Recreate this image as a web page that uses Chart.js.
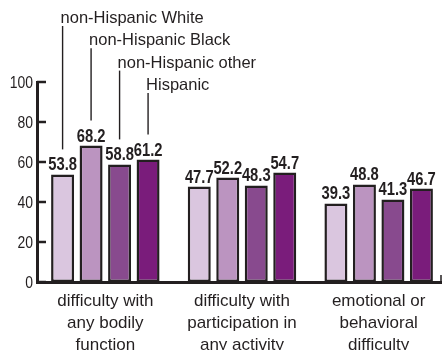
<!DOCTYPE html>
<html>
<head>
<meta charset="utf-8">
<script src="https://cdn.jsdelivr.net/npm/chart.js@4.4.1/dist/chart.umd.min.js"></script>
<style>
  html, body { margin: 0; padding: 0; background: #ffffff; overflow: hidden; }
  #wrap { width: 447px; height: 350px; }
</style>
</head>
<body>
<div id="wrap"><canvas id="chart" width="447" height="350"></canvas></div>
<script>
// Categories (multi-line axis labels)
const categories = [
  ['difficulty with', 'any bodily', 'function'],
  ['difficulty with', 'participation in', 'any activity'],
  ['emotional or', 'behavioral', 'difficulty']
];

// Series names and percentages per category
const seriesNames = ['non-Hispanic White', 'non-Hispanic Black', 'non-Hispanic other', 'Hispanic'];
const whiteValues = [53.8, 47.7, 39.3];
const blackValues = [68.2, 52.2, 48.8];
const otherValues = [58.8, 48.3, 41.3];
const hispanicValues = [61.2, 54.7, 46.7];

// Y axis ticks
const yTicks = [0, 20, 40, 60, 80, 100];

const seriesColors = ['#dac6df', '#bb94c0', '#884a8e', '#7a1c7b'];
const ink = '#231f20';
const narrow = 0.82; // horizontal squeeze for the condensed numerals

const allValues = [whiteValues, blackValues, otherValues, hispanicValues];

function condensedText(ctx, text, x, y) {
  ctx.save();
  ctx.translate(x, y);
  ctx.scale(narrow, 1);
  ctx.fillText(text, 0, 0);
  ctx.restore();
}

// Value labels above every bar
const valueLabels = {
  id: 'valueLabels',
  afterDatasetsDraw(chart) {
    const ctx = chart.ctx;
    ctx.save();
    ctx.font = 'bold 18px "Liberation Sans", Arial, sans-serif';
    ctx.fillStyle = ink;
    ctx.textAlign = 'center';
    ctx.textBaseline = 'alphabetic';
    chart.data.datasets.forEach((ds, i) => {
      chart.getDatasetMeta(i).data.forEach((bar, j) => {
        condensedText(ctx, ds.data[j].toFixed(1), bar.x, bar.y - 4);
      });
    });
    ctx.restore();
  }
};

// Series names stacked at the top, with leader lines to the first group's bars
const seriesCallouts = {
  id: 'seriesCallouts',
  afterDraw(chart) {
    const ctx = chart.ctx;
    ctx.save();
    ctx.font = '16.5px "Liberation Sans", Arial, sans-serif';
    ctx.fillStyle = ink;
    ctx.strokeStyle = ink;
    ctx.lineWidth = 1.4;
    ctx.textAlign = 'left';
    ctx.textBaseline = 'alphabetic';
    chart.data.datasets.forEach((ds, i) => {
      const bar = chart.getDatasetMeta(i).data[0];
      const baseline = 23 + 22.3 * i;
      ctx.fillText(ds.label, bar.x - 2, baseline);
      ctx.beginPath();
      ctx.moveTo(bar.x, baseline + 3);
      ctx.lineTo(bar.x, bar.y - 25);
      ctx.stroke();
    });
    ctx.restore();
  }
};

// Y tick labels, tick marks pointing into the plot area, and the short end mark on the base line
const axisMarks = {
  id: 'axisMarks',
  afterDraw(chart) {
    const ctx = chart.ctx;
    const y = chart.scales.y;
    const area = chart.chartArea;
    ctx.save();
    ctx.strokeStyle = ink;
    ctx.fillStyle = ink;
    ctx.lineWidth = 2.5;
    ctx.font = '17px "Liberation Sans", Arial, sans-serif';
    ctx.textAlign = 'right';
    ctx.textBaseline = 'middle';
    yTicks.forEach(v => {
      const py = y.getPixelForValue(v);
      ctx.beginPath();
      ctx.moveTo(area.left, py);
      ctx.lineTo(area.left + 9, py);
      ctx.stroke();
      condensedText(ctx, String(v), area.left - 4, py + 1);
    });
    ctx.lineWidth = 1.5;
    ctx.beginPath();
    ctx.moveTo(area.right - 6, area.bottom);
    ctx.lineTo(area.right - 6, area.bottom - 7);
    ctx.stroke();
    ctx.restore();
  }
};

new Chart(document.getElementById('chart'), {
  type: 'bar',
  data: {
    labels: categories,
    datasets: seriesNames.map((name, i) => ({
      label: name,
      data: allValues[i],
      backgroundColor: seriesColors[i],
      borderColor: ink,
      borderWidth: 2.5,
      borderSkipped: false,
      categoryPercentage: 0.834,
      barPercentage: 0.807
    }))
  },
  options: {
    responsive: false,
    devicePixelRatio: 1,
    animation: false,
    layout: { padding: { top: 82, right: 0, bottom: 0, left: 0 } },
    plugins: {
      legend: { display: false },
      tooltip: { enabled: false }
    },
    scales: {
      x: {
        grid: { display: false, drawTicks: false },
        border: { display: true, color: ink, width: 3 },
        ticks: {
          color: ink,
          padding: 8,
          maxRotation: 0,
          autoSkip: false,
          font: { family: '"Liberation Sans", Arial, sans-serif', size: 17, lineHeight: '22px' }
        },
        afterFit(scale) { scale.height = 68; }
      },
      y: {
        min: 0,
        max: 100,
        afterBuildTicks(scale) { scale.ticks = yTicks.map(v => ({ value: v })); },
        grid: { display: false, drawTicks: false },
        border: { display: true, color: ink, width: 3 },
        ticks: { display: false },
        afterFit(scale) { scale.width = 37; }
      }
    }
  },
  plugins: [valueLabels, seriesCallouts, axisMarks]
});
</script>
</body>
</html>
